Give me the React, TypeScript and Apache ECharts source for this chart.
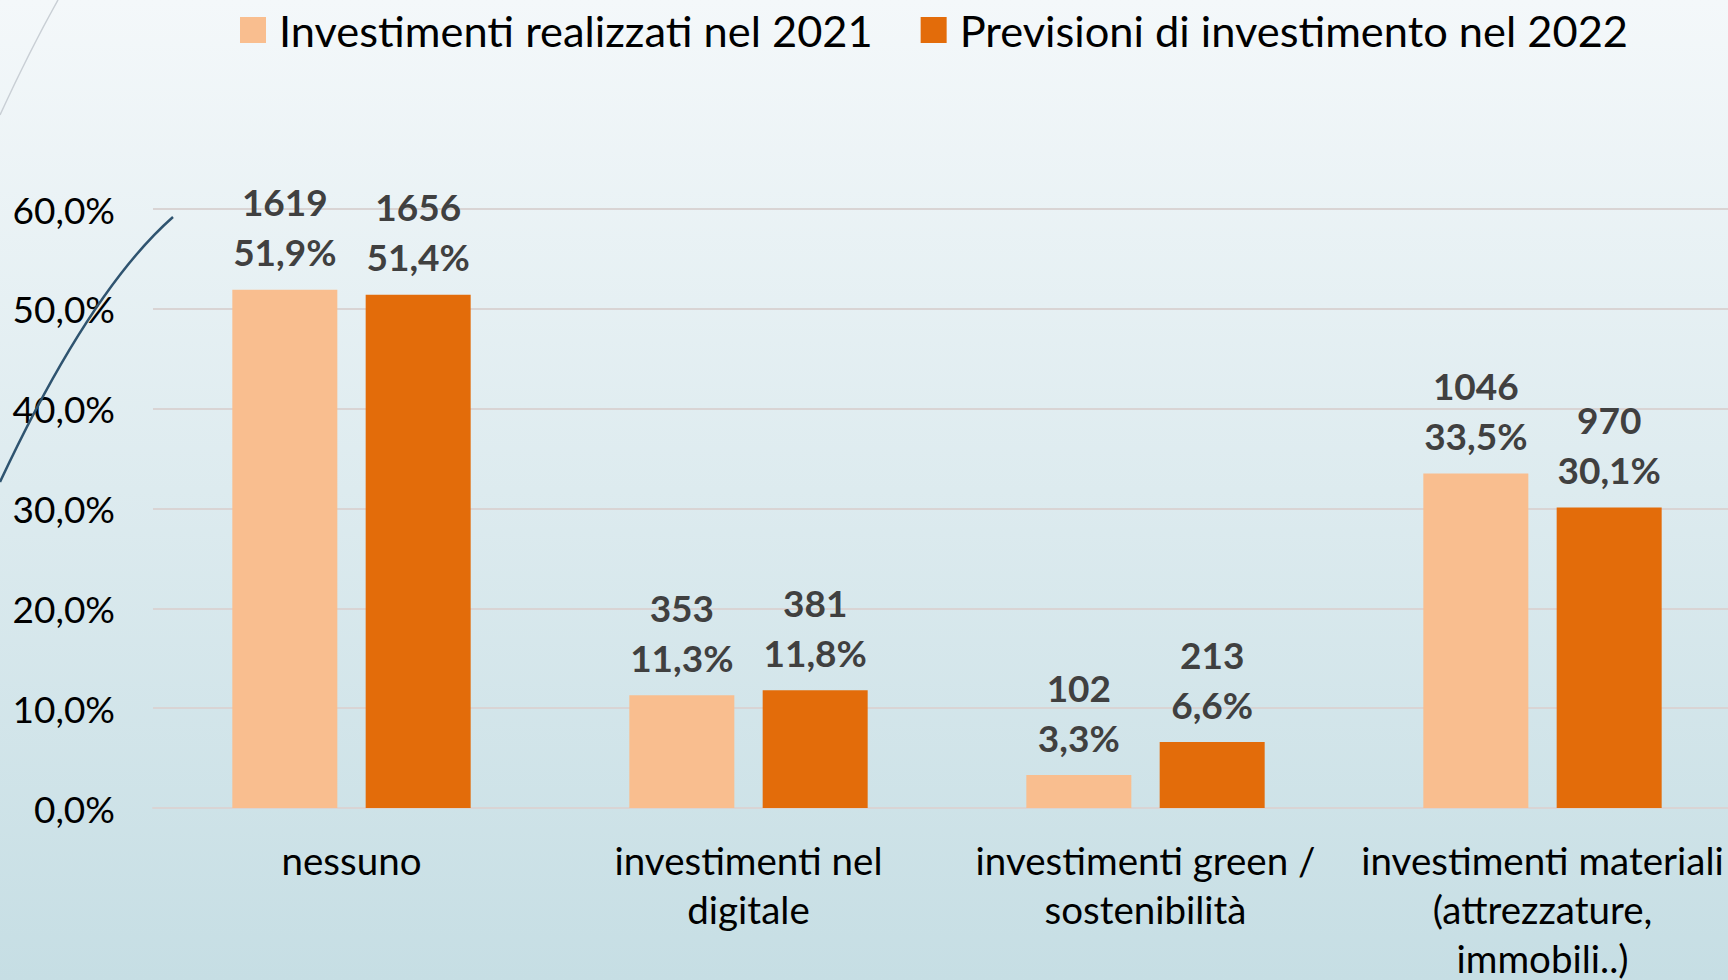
import React, { useEffect, useRef } from "react";
import * as echarts from "echarts";

const categories = [
  "nessuno",
  "investimenti nel\ndigitale",
  "investimenti green /\nsostenibilità",
  "investimenti materiali\n(attrezzature,\nimmobili..)",
];
const seriesNames = ["Investimenti realizzati nel 2021", "Previsioni di investimento nel 2022"];
const pct2021 = [51.9, 11.3, 3.3, 33.5];
const count2021 = [1619, 353, 102, 1046];
const pct2022 = [51.4, 11.8, 6.6, 30.1];
const count2022 = [1656, 381, 213, 970];
const yTicks = { min: 0, max: 60, interval: 10 };

const FONT = "Lato, 'Open Sans', sans-serif";
const fmtPct = (v: number) => v.toFixed(1).replace(".", ",") + "%";

export default function App() {
  const ref = useRef<HTMLDivElement>(null);
  useEffect(() => {
    if (!ref.current) return;
    const chart = echarts.init(ref.current, undefined, { renderer: "svg" });
    const mkLabel = (counts: number[]) => ({
      show: true,
      position: "top" as const,
      distance: 13,
      formatter: (p: any) => `${counts[p.dataIndex]}\n${fmtPct(p.value)}`,
      fontFamily: FONT,
      fontWeight: "bold" as const,
      fontSize: 37,
      lineHeight: 50,
      color: "#404040",
    });
    chart.setOption({
      animation: false,
      backgroundColor: new echarts.graphic.LinearGradient(0, 0, 0, 1, [
        { offset: 0, color: "#F4F8FA" },
        { offset: 1, color: "#C6DEE4" },
      ]),
      textStyle: { fontFamily: FONT },
      legend: {
        left: 240,
        top: 5,
        padding: 0,
        itemWidth: 26,
        itemHeight: 26,
        itemGap: 48,
        icon: "rect",
        textStyle: {
          fontFamily: FONT,
          fontSize: 43.4,
          lineHeight: 50,
          color: "#000000",
          padding: [0, 0, 0, 8],
        },
        data: seriesNames,
      },
      grid: {
        left: 153,
        top: 209,
        width: 1588,
        height: 599,
        containLabel: false,
        outerBoundsMode: "none",
      },
      xAxis: {
        type: "category",
        data: categories,
        axisTick: { show: false },
        axisLine: { show: true, lineStyle: { color: "#D9D4D4", width: 2 } },
        axisLabel: {
          interval: 0,
          margin: 27,
          fontFamily: FONT,
          fontSize: 38.5,
          lineHeight: 49,
          color: "#000000",
        },
      },
      yAxis: {
        type: "value",
        min: yTicks.min,
        max: yTicks.max,
        interval: yTicks.interval,
        axisLine: { show: false },
        axisTick: { show: false },
        splitLine: { lineStyle: { color: "#D9D4D4", width: 2 } },
        axisLabel: {
          margin: 38,
          formatter: (v: number) => fmtPct(v),
          fontFamily: FONT,
          fontSize: 37,
          color: "#000000",
        },
      },
      series: [
        {
          name: seriesNames[0],
          type: "bar",
          data: pct2021,
          barWidth: 105,
          barGap: "27%",
          itemStyle: { color: "#F9BE8F" },
          label: mkLabel(count2021),
        },
        {
          name: seriesNames[1],
          type: "bar",
          data: pct2022,
          barWidth: 105,
          itemStyle: { color: "#E36C0A" },
          label: mkLabel(count2022),
        },
      ],
      graphic: [
        {
          type: "bezierCurve",
          silent: true,
          z: 100,
          shape: { x1: 58, y1: 0, x2: 0, y2: 115, cpx1: 30, cpy1: 50 },
          style: { stroke: "#C9CFD5", lineWidth: 1.5, fill: "none" },
        },
        {
          type: "bezierCurve",
          silent: true,
          z: 100,
          shape: { x1: 173, y1: 217, x2: 0, y2: 482, cpx1: 90, cpy1: 290 },
          style: { stroke: "#2F5470", lineWidth: 2.5, fill: "none" },
        },
      ],
    });
    return () => chart.dispose();
  }, []);
  return (
    <div style={{ position: "fixed", left: 0, top: 0, width: 1728, height: 980, overflow: "hidden" }}>
      <div ref={ref} style={{ position: "absolute", left: 0, top: 0, width: 1760, height: 980 }} />
    </div>
  );
}
